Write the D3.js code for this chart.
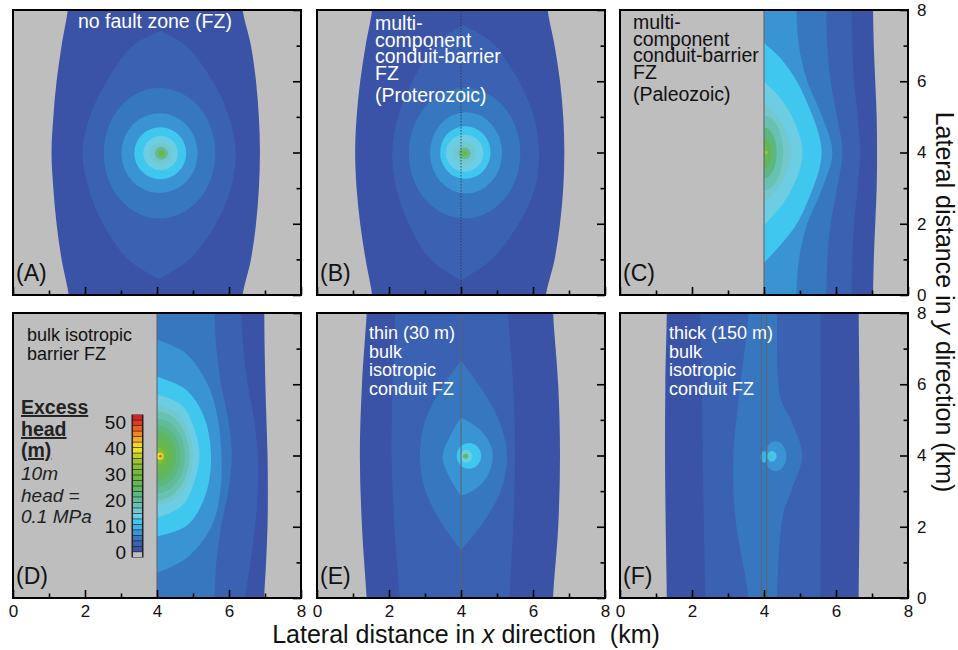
<!DOCTYPE html>
<html>
<head>
<meta charset="utf-8">
<title>Excess head around a pumping well</title>
<script src="https://d3js.org/d3.v7.min.js"></script>
<style>
  body { margin: 0; background: #fff; }
  text { font-family: "Liberation Sans", Arial, sans-serif; }
</style>
</head>
<body>
<svg width="958" height="650"></svg>
<script>
// contour levels of excess head (m) and the colour of each band
const levels = d3.range(0, 51, 2);
const levelColors = ["#bebebe", "#3a53a6", "#3b61b3", "#3777bf", "#3a94d3", "#3cb2e6", "#40c7ef",
  "#6ccde3", "#72c8cc", "#68c2b2", "#60bc98", "#5cb87e", "#5fb766", "#64b752", "#6bb845",
  "#74ba3c", "#82bd36", "#9cc332", "#c0cf2e", "#e8e22a", "#f7d424", "#f4ac20", "#f0861e",
  "#ec5e1e", "#e6381e", "#d6211c"];
const barLabels = [0, 10, 20, 30, 40, 50];
const majorTicks = [0, 2, 4, 6, 8];
const minorTicks = [1, 3, 5, 7];

const panelNames = ["(A)", "(B)", "(C)", "(D)", "(E)", "(F)"];
const panelNotes = [
  ["no fault zone (FZ)"],
  ["multi-", "component", "conduit-barrier", "FZ", "(Proterozoic)"],
  ["multi-", "component", "conduit-barrier", "FZ", "(Paleozoic)"],
  ["bulk isotropic", "barrier FZ"],
  ["thin (30 m)", "bulk", "isotropic", "conduit FZ"],
  ["thick (150 m)", "bulk", "isotropic", "conduit FZ"]
];
const legendLines = ["Excess", "head", "(m)", "10m", "head =", "0.1 MPa"];

// fault zone traces (km) and whether the side west of it gets no head
const faultLines = [[], [4], [4], [4], [4], [3.925, 4.075]];
const westBlocked = [false, false, true, true, false, false];

// contour bands, in km: e = ellipse [cx, cy, rx, ry], s = outline pieces
const contoursA = [
  {v: 2, s: [[[1.55, 8.6], [1.52, 8], [1.35, 7], [1.21, 6], [1.12, 5], [1.07, 4], [1.12, 3], [1.21, 2], [1.35, 1], [1.55, 0], [1.6, -0.6]],
             [[6.36, -0.6], [6.38, 0], [6.61, 1], [6.75, 2], [6.83, 3], [6.86, 4], [6.83, 5], [6.75, 6], [6.61, 7], [6.38, 8], [6.36, 8.6]]]},
  {v: 4, s: [[[4.1, 7.42], [4.8, 7.0], [5.55, 6], [6.0, 5], [6.19, 4], [6.05, 3], [5.64, 2], [4.9, 1], [4.05, 0.45]],
             [[4.05, 0.45], [3.2, 1], [2.5, 2], [2.1, 3], [1.93, 4], [2.13, 5], [2.6, 6], [3.33, 7], [4.1, 7.42]]]},
  {v: 6, e: [4.07, 3.98, 1.55, 1.83]},
  {v: 8, e: [4.07, 3.98, 1.06, 1.12]},
  {v: 12, e: [4.09, 3.98, 0.72, 0.73]},
  {v: 14, e: [4.1, 3.98, 0.48, 0.48]},
  {v: 16, e: [4.1, 3.98, 0.3, 0.3]},
  {v: 20, e: [4.12, 3.98, 0.18, 0.18]},
  {v: 28, e: [4.12, 3.98, 0.09, 0.09]}
];
const contoursB = [
  {v: 2, s: [[[1.55, 8.6], [1.53, 8], [1.35, 7], [1.2, 6], [1.1, 5], [1.06, 4], [1.1, 3], [1.2, 2], [1.35, 1], [1.53, 0], [1.55, -0.6]],
             [[6.34, -0.6], [6.36, 0], [6.6, 1], [6.75, 2], [6.84, 3], [6.87, 4], [6.84, 5], [6.75, 6], [6.6, 7], [6.41, 8], [6.4, 8.6]]]},
  {v: 4, s: [[[4.05, 7.58], [4.85, 7.1], [5.55, 6.1], [6.0, 5.1], [6.17, 4], [6.05, 3], [5.6, 2], [4.85, 1], [4.0, 0.42]],
             [[4.0, 0.42], [3.15, 1], [2.55, 2], [2.2, 3], [2.09, 4], [2.25, 5], [2.7, 6.1], [3.35, 7.1], [4.05, 7.58]]]},
  {v: 6, e: [4.1, 3.98, 1.55, 1.83]},
  {v: 8, e: [4.14, 3.99, 1.0, 1.14]},
  {v: 12, e: [4.12, 4.0, 0.7, 0.74]},
  {v: 14, e: [4.1, 3.98, 0.52, 0.52]},
  {v: 16, e: [4.1, 3.98, 0.3, 0.3]},
  {v: 20, e: [4.1, 3.98, 0.17, 0.17]},
  {v: 28, e: [4.1, 3.98, 0.08, 0.08]}
];
const contoursC = [
  {v: 2, s: [[[3.5, 8.6], [3.5, -0.6]], [[7.03, -0.6], [7.03, 0], [7.05, 1], [7.09, 2], [7.13, 3], [7.14, 4], [7.13, 5], [7.09, 6], [7.05, 7], [7.03, 8], [7.03, 8.6]]]},
  {v: 4, s: [[[3.5, 8.6], [3.5, -0.6]], [[6.42, -0.6], [6.43, 0], [6.45, 1], [6.5, 2], [6.6, 3], [6.67, 4], [6.6, 5], [6.5, 6], [6.45, 7], [6.43, 8], [6.42, 8.6]]]},
  {v: 6, s: [[[3.5, 8.6], [3.5, -0.6]], [[5.72, -0.6], [5.73, 0], [5.76, 1], [5.85, 2], [6.03, 3], [6.18, 4], [6.03, 5], [5.85, 6], [5.76, 7], [5.73, 8], [5.72, 8.6]]]},
  {v: 8, s: [[[3.5, 8.6], [3.5, -0.6]], [[4.88, -0.6], [4.9, 0], [4.97, 1], [5.2, 2], [5.62, 3], [5.9, 4], [5.62, 5], [5.2, 6], [4.97, 7], [4.9, 8], [4.88, 8.6]]]},
  {v: 12, s: [[[3.8, 7.3], [4, 7.08], [4.45, 6.65], [4.91, 6.0], [5.36, 5.0], [5.55, 4.4], [5.6, 4.0], [5.55, 3.6], [5.36, 3.0], [4.91, 2.0], [4.45, 1.4], [4, 0.9], [3.8, 0.7]]]},
  {v: 14, s: [[[3.8, 6.2], [4, 6.0], [4.55, 5.4], [4.95, 4.6], [5.07, 4], [4.95, 3.4], [4.55, 2.6], [4, 1.97], [3.8, 1.8]]]},
  {v: 16, s: [[[3.8, 5.6], [4, 5.39], [4.45, 4.9], [4.7, 4.35], [4.76, 4], [4.7, 3.65], [4.45, 3.1], [4, 2.58], [3.8, 2.4]]]},
  {v: 18, e: [4, 3.99, 0.53, 1.05]},
  {v: 22, e: [4, 3.99, 0.35, 0.72]},
  {v: 26, e: [4, 3.99, 0.2, 0.42]},
  {v: 34, e: [4.06, 4.0, 0.05, 0.05]}
];
const contoursD = [
  {v: 2, s: [[[3.5, 8.6], [3.5, -0.6]], [[6.98, -0.6], [6.98, 0], [7.03, 1], [7.07, 2], [7.08, 3], [7.07, 4], [7.04, 5], [7.01, 6], [6.99, 7], [6.98, 8], [6.98, 8.6]]]},
  {v: 4, s: [[[3.5, 8.6], [3.5, -0.6]], [[6.44, -0.6], [6.45, 0], [6.6, 1], [6.72, 2], [6.8, 3], [6.8, 4], [6.7, 5], [6.52, 6], [6.4, 7], [6.34, 8], [6.33, 8.6]]]},
  {v: 6, s: [[[3.5, 8.6], [3.5, -0.6]], [[5.6, -0.6], [5.6, 0], [5.65, 1], [5.78, 2], [5.98, 3], [6.08, 4], [5.98, 5], [5.78, 6], [5.65, 7], [5.6, 8], [5.6, 8.6]]]},
  {v: 8, s: [[[3.8, 7.4], [4, 7.27], [4.82, 6.85], [5.43, 5.95], [5.7, 4.97], [5.79, 4], [5.76, 3], [5.51, 2], [4.82, 1.12], [4, 0.7], [3.8, 0.6]]]},
  {v: 12, s: [[[3.8, 6.3], [4, 6.22], [4.8, 5.85], [5.3, 5.1], [5.5, 4.0], [5.35, 2.9], [4.85, 2.05], [4, 1.72], [3.8, 1.65]]]},
  {v: 14, s: [[[3.8, 5.8], [4, 5.72], [4.7, 5.4], [5.05, 4.7], [5.18, 4], [5.05, 3.3], [4.7, 2.6], [4, 2.25], [3.8, 2.2]]]},
  {v: 16, s: [[[3.8, 5.5], [4, 5.44], [4.6, 5.15], [4.9, 4.6], [5.0, 4], [4.9, 3.4], [4.6, 2.85], [4, 2.6], [3.8, 2.55]]]},
  {v: 18, e: [4, 3.99, 0.9, 1.25]},
  {v: 20, e: [4, 3.99, 0.78, 1.05]},
  {v: 22, e: [4, 3.99, 0.66, 0.86]},
  {v: 24, e: [4, 3.99, 0.54, 0.7]},
  {v: 26, e: [4, 3.99, 0.42, 0.54]},
  {v: 28, e: [4, 3.99, 0.3, 0.38]},
  {v: 32, e: [4.02, 3.99, 0.2, 0.24]},
  {v: 38, e: [4.08, 3.98, 0.1, 0.1]},
  {v: 46, e: [4.1, 3.98, 0.04, 0.04]}
];
const contoursE = [
  {v: 2, s: [[[1.4, 8.6], [1.38, 8], [1.25, 6], [1.19, 4], [1.25, 2], [1.38, 0], [1.4, -0.6]],
             [[6.56, -0.6], [6.56, 0], [6.7, 2], [6.75, 4], [6.7, 6], [6.56, 8], [6.56, 8.6]]]},
  {v: 4, s: [[[2.17, 8.6], [2.17, 8], [2.1, 6], [2.07, 4], [2.15, 2], [2.3, 0], [2.32, -0.6]],
             [[5.35, -0.6], [5.35, 0], [5.45, 2], [5.5, 4], [5.45, 6], [5.31, 8], [5.31, 8.6]]]},
  {v: 6, s: [[[4, 6.66], [4.55, 5.9], [5.05, 5.0], [5.28, 4.0], [5.1, 3.0], [4.6, 2.1], [4, 1.35]],
             [[4, 1.35], [3.4, 2.2], [2.98, 3.1], [2.86, 4], [2.98, 4.9], [3.4, 5.8], [4, 6.66]]]},
  {v: 8, s: [[[4, 5.07], [4.5, 4.75], [4.82, 4.3], [4.88, 3.95], [4.75, 3.45], [4.4, 3.05], [4, 2.87]],
             [[4, 2.87], [3.7, 3.35], [3.49, 3.95], [3.7, 4.55], [4, 5.07]]]},
  {v: 12, e: [4.22, 3.99, 0.34, 0.36]},
  {v: 14, e: [4.14, 3.98, 0.17, 0.18]},
  {v: 24, e: [4.13, 3.98, 0.07, 0.07]}
];
const contoursF = [
  {v: 2, s: [[[1.3, 8.6], [1.3, 8], [1.26, 6], [1.25, 4], [1.27, 2], [1.3, 0], [1.3, -0.6]],
             [[6.63, -0.6], [6.63, 0], [6.65, 2], [6.66, 4], [6.65, 6], [6.63, 8], [6.63, 8.6]]]},
  {v: 4, s: [[[2.23, 8.6], [2.23, 8], [2.27, 6], [2.3, 4], [2.33, 2], [2.37, 0], [2.37, -0.6]],
             [[5.57, -0.6], [5.57, 0], [5.58, 4], [5.57, 8], [5.57, 8.6]]]},
  {v: 6, s: [[[3.57, 8.6], [3.57, 8], [3.3, 5.6], [3.15, 4], [3.2, 2.3], [3.57, 0], [3.57, -0.6]],
             [[4.36, -0.6], [4.36, 0], [4.52, 2.3], [4.75, 3.0], [5.06, 4], [4.75, 5.0], [4.46, 5.6], [4.36, 8], [4.36, 8.6]]]},
  {v: 8, e: [4.32, 3.98, 0.3, 0.42]},
  {v: 10, e: [4.0, 3.96, 0.1, 0.16]},
  {v: 12, e: [4.22, 3.98, 0.13, 0.15]},
  {v: 20, e: [4.18, 3.98, 0.04, 0.04]}
];
const panelContours = [contoursA, contoursB, contoursC, contoursD, contoursE, contoursF];

// layout
const W = 288, H = 285;
const colX = [13, 317, 620], rowY = [10, 313];
const noteStyle = [
  {x: 65, y: 18, lh: 17, size: 19.5, fill: "#fff"},
  {x: 58, y: 20, lh: 16.7, size: 19.5, fill: "#fff", gap: 5},
  {x: 13, y: 19, lh: 16.5, size: 19.5, fill: "#111", gap: 5.5},
  {x: 14, y: 28, lh: 18.5, size: 18, fill: "#111"},
  {x: 52, y: 26, lh: 18.7, size: 18, fill: "#fff"},
  {x: 49, y: 26, lh: 18.7, size: 18, fill: "#fff"}
];

const svg = d3.select("svg");
const x = d3.scaleLinear().domain([0, 8]).range([0, W]);
const y = d3.scaleLinear().domain([0, 8]).range([H, 0]);
const color = d3.scaleOrdinal().domain(levels).range(levelColors);
const seg = d3.line().x(d => x(d[0])).y(d => y(d[1])).curve(d3.curveCatmullRom.alpha(0.5));

function outline(pieces) {
  return pieces.map((pts, i) => i ? seg(pts).replace(/^M/, "L") : seg(pts)).join("") + "Z";
}

panelContours.forEach((bands, i) => {
  const col = i % 3, row = Math.floor(i / 3);
  const g = svg.append("g").attr("transform", `translate(${colX[col]},${rowY[row]})`);

  const x0 = westBlocked[i] ? x(4) : 0;
  g.append("clipPath").attr("id", "clip" + i)
    .append("rect").attr("x", x0).attr("y", 0).attr("width", W - x0).attr("height", H);

  g.append("rect").attr("width", W).attr("height", H).attr("fill", color(0));

  const field = g.append("g").attr("clip-path", `url(#clip${i})`);
  bands.forEach(b => {
    if (b.e) {
      field.append("ellipse")
        .attr("cx", x(b.e[0])).attr("cy", y(b.e[1]))
        .attr("rx", x(b.e[2]) - x(0)).attr("ry", y(0) - y(b.e[3]))
        .attr("fill", color(b.v));
    } else {
      field.append("path").attr("d", outline(b.s)).attr("fill", color(b.v));
    }
  });

  faultLines[i].forEach(f => {
    g.append("line")
      .attr("x1", x(f)).attr("x2", x(f)).attr("y1", 0).attr("y2", H)
      .attr("stroke", i === 1 ? "#333" : "#5d6470")
      .attr("stroke-width", i === 1 ? 0.8 : 1.1)
      .attr("stroke-dasharray", i === 1 ? "1.5,1.5" : null);
  });

  // inward ticks on the bottom and right edges
  const fmt = d3.format("d");
  const bottomMajor = d3.axisBottom(x).tickValues(majorTicks).tickSizeInner(-8).tickSizeOuter(0)
    .tickPadding(7).tickFormat(row === 1 ? fmt : () => "");
  const bottomMinor = d3.axisBottom(x).tickValues(minorTicks).tickSizeInner(-4.5).tickSizeOuter(0).tickFormat(() => "");
  const rightMajor = d3.axisRight(y).tickValues(majorTicks).tickSizeInner(-8).tickSizeOuter(0)
    .tickPadding(9).tickFormat(col === 2 ? fmt : () => "");
  const rightMinor = d3.axisRight(y).tickValues(minorTicks).tickSizeInner(-4.5).tickSizeOuter(0).tickFormat(() => "");

  [[bottomMajor, `translate(0,${H})`], [bottomMinor, `translate(0,${H})`],
   [rightMajor, `translate(${W},0)`], [rightMinor, `translate(${W},0)`]].forEach(([ax, tr]) => {
    const a = g.append("g").attr("transform", tr).call(ax);
    a.select(".domain").remove();
    a.selectAll("line").attr("stroke", "#000").attr("stroke-width", 1.6);
    a.selectAll("text").attr("font-size", 17).attr("fill", "#111")
      .attr("font-family", "'Liberation Sans', sans-serif");
  });

  g.append("rect").attr("width", W).attr("height", H)
    .attr("fill", "none").attr("stroke", "#000").attr("stroke-width", 2);

  // panel notes
  const ns = noteStyle[i];
  const note = g.append("text").attr("font-size", ns.size).attr("fill", ns.fill);
  panelNotes[i].forEach((t, k) => {
    const extra = ns.gap && k === panelNotes[i].length - 1 ? ns.gap : 0;
    note.append("tspan").attr("x", ns.x).attr("y", ns.y + k * ns.lh + extra).text(t);
  });

  g.append("text").attr("x", 3).attr("y", 271).attr("font-size", 23).attr("fill", "#111")
    .text(panelNames[i]);

  if (i === 3) {
    // colour bar
    const band = d3.scaleBand().domain(levels.slice().reverse()).range([102, 244]).paddingInner(0.12);
    g.append("rect").attr("x", 118.5).attr("y", 101.5).attr("width", 12).attr("height", 143)
      .attr("fill", "#222");
    g.selectAll(".swatch").data(levels).join("rect")
      .attr("x", 120).attr("width", 9)
      .attr("y", d => band(d)).attr("height", band.bandwidth())
      .attr("fill", d => color(d));
    const lab = d3.scaleLinear().domain([0, 50]).range([239, 109]);
    g.selectAll(".barlab").data(barLabels).join("text")
      .attr("x", 113).attr("y", d => lab(d)).attr("dy", "0.36em")
      .attr("text-anchor", "end").attr("font-size", 19).attr("fill", "#111")
      .text(d => d);

    const legY = [101, 123, 144, 167, 189, 210];
    legendLines.forEach((t, k) => {
      g.append("text").attr("x", 8).attr("y", legY[k])
        .attr("font-size", k < 3 ? 19.5 : 19)
        .attr("font-weight", k < 3 ? "bold" : null)
        .attr("font-style", k < 3 ? null : "italic")
        .attr("text-decoration", k < 3 ? "underline" : null)
        .attr("fill", "#222")
        .text(t);
    });
  }
});

// axis titles
const xt = svg.append("text").attr("x", 466).attr("y", 643).attr("text-anchor", "middle")
  .attr("font-size", 25).attr("fill", "#111");
xt.append("tspan").text("Lateral distance in ");
xt.append("tspan").attr("font-style", "italic").text("x");
xt.append("tspan").text(" direction\u00a0 (km)");

const yt = svg.append("text").attr("transform", "translate(936,302) rotate(90)").attr("text-anchor", "middle")
  .attr("font-size", 25).attr("fill", "#111");
yt.append("tspan").text("Lateral distance in ");
yt.append("tspan").attr("font-style", "italic").text("y");
yt.append("tspan").text(" direction (km)");
</script>
</body>
</html>
